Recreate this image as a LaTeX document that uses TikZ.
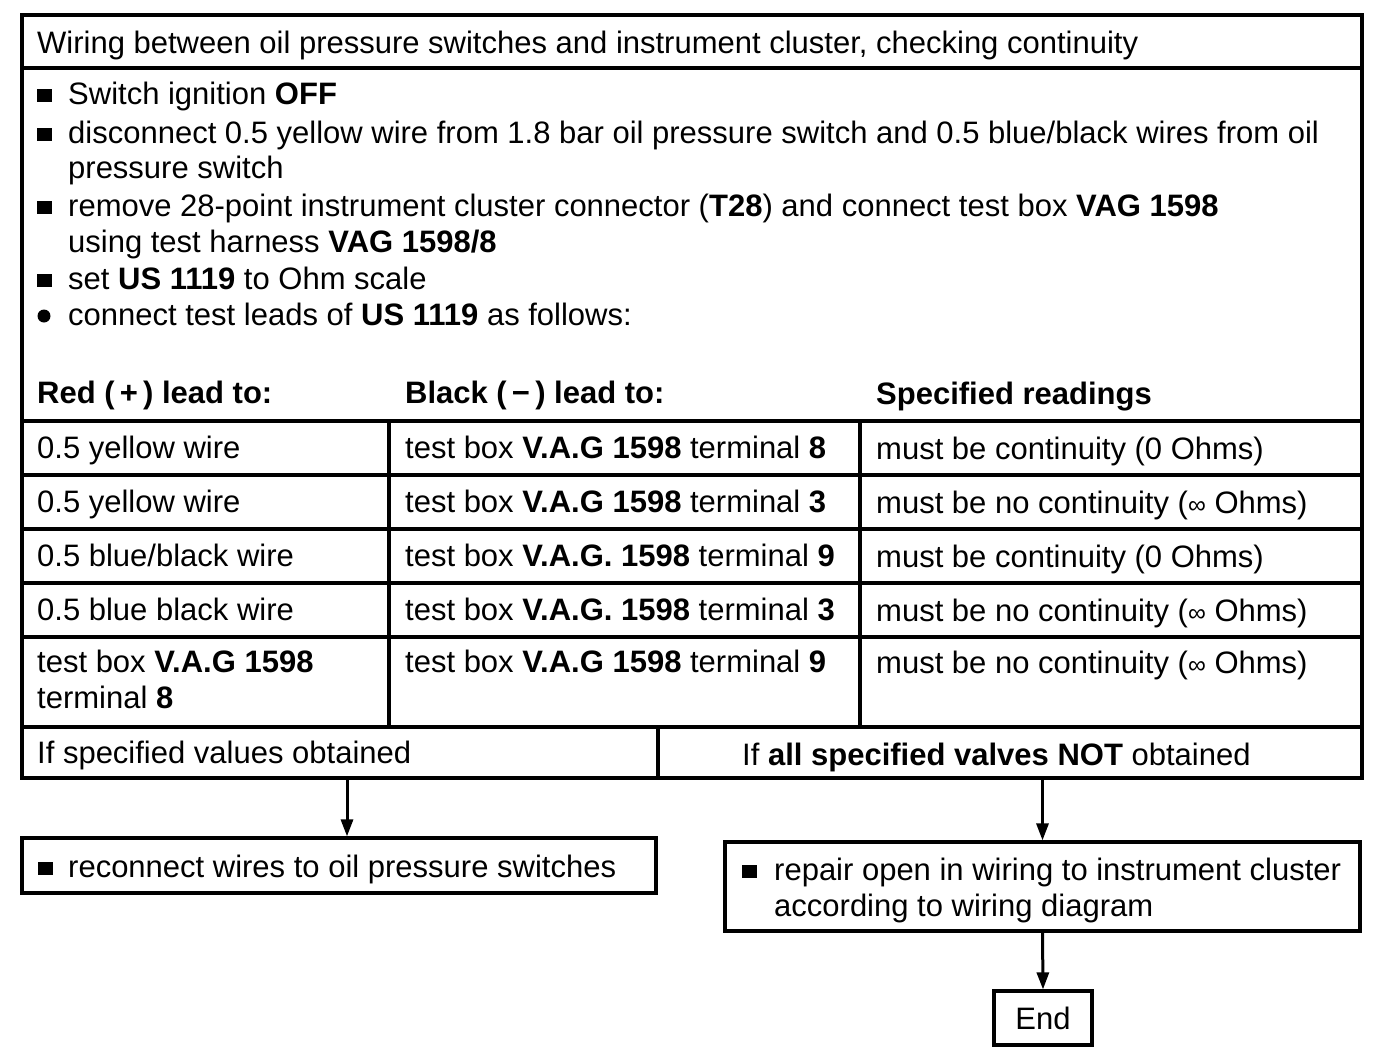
\documentclass[tikz,border=0pt]{standalone}
\usepackage{fontspec}
\setmainfont{Liberation Sans}
\usetikzlibrary{arrows.meta}
\newcommand{\Bsq}{\rule[0.06em]{0.48em}{0.44em}}
\newcommand{\Inf}{{\fontsize{25}{25}\selectfont ∞}}
\begin{document}
\begin{tikzpicture}[x=1pt,y=-1pt,
  every node/.style={font=\fontsize{31}{35.5}\selectfont, inner sep=0pt},
  txt/.style={anchor=base west},
  frame/.style={line width=3.2pt},
  cell/.style={rectangle, minimum width=#1},
  boxed/.style={draw, rectangle, line width=3.2pt},
  flow/.style={line width=3pt, -{Triangle[length=17pt,width=12pt]}}
]
\useasboundingbox (0,0) rectangle (1392,1052);
\fill[white] (0,0) rectangle (1392,1052);

% main frame
\draw[frame] (22,15) rectangle (1362,778);
\draw[frame] (22,68) -- (1362,68);
\foreach \yy in {421,475,529,583,637,727} \draw[frame] (22,\yy) -- (1362,\yy);
\draw[frame] (389,421) -- (389,727);
\draw[frame] (860,421) -- (860,727);
\draw[frame] (658,727) -- (658,778);

% title and bullets
\node[txt] (title) at (37,53) {Wiring between oil pressure switches and instrument cluster, checking continuity};
\node[txt] (m1) at (37,104) {\Bsq};
\node[txt] (b1) at (68,104) {Switch ignition \textbf{OFF}};
\node[txt] (m2) at (37,143) {\Bsq};
\node[txt] (b2) at (68,143) {disconnect 0.5 yellow wire from 1.8 bar oil pressure switch and 0.5 blue/black wires from oil};
\node[txt] (b2b) at (68,178) {pressure switch};
\node[txt] (m3) at (37,216) {\Bsq};
\node[txt] (b3) at (68,216) {remove 28-point instrument cluster connector (\textbf{T28}) and connect test box \textbf{VAG 1598}};
\node[txt] (b3b) at (68,252) {using test harness \textbf{VAG 1598/8}};
\node[txt] (m4) at (37,289) {\Bsq};
\node[txt] (b4) at (68,289) {set \textbf{US 1119} to Ohm scale};
\node[circle, fill, minimum size=13pt] (m5) at (44,316) {};
\node[txt] (b5) at (68,325) {connect test leads of \textbf{US 1119} as follows:};

% header
\node[txt] (h1) at (37,403) {\textbf{Red (\,+\,) lead to:}};
\node[txt] (h2) at (405,403) {\textbf{Black (\,−\,) lead to:}};
\node[txt] (h3) at (876,404) {\textbf{Specified readings}};

% rows
\node[txt] (r1a) at (37,458) {0.5 yellow wire};
\node[txt] (r1b) at (405,458) {test box \textbf{V.A.G 1598} terminal \textbf{8}};
\node[txt] (r1c) at (876,459) {must be continuity (0 Ohms)};
\node[txt] (r2a) at (37,512) {0.5 yellow wire};
\node[txt] (r2b) at (405,512) {test box \textbf{V.A.G 1598} terminal \textbf{3}};
\node[txt] (r2c) at (876,513) {must be no continuity (\Inf{} Ohms)};
\node[txt] (r3a) at (37,566) {0.5 blue/black wire};
\node[txt] (r3b) at (405,566) {test box \textbf{V.A.G. 1598} terminal \textbf{9}};
\node[txt] (r3c) at (876,567) {must be continuity (0 Ohms)};
\node[txt] (r4a) at (37,620) {0.5 blue black wire};
\node[txt] (r4b) at (405,620) {test box \textbf{V.A.G. 1598} terminal \textbf{3}};
\node[txt] (r4c) at (876,621) {must be no continuity (\Inf{} Ohms)};
\node[txt] (r5a) at (37,672) {test box \textbf{V.A.G 1598}};
\node[txt] (r5a2) at (37,708) {terminal \textbf{8}};
\node[txt] (r5b) at (405,672) {test box \textbf{V.A.G 1598} terminal \textbf{9}};
\node[txt] (r5c) at (876,673) {must be no continuity (\Inf{} Ohms)};

% outcome cells
\node[cell=636pt, minimum height=51pt] (okcell) at (340,752.5) {};
\node[cell=704pt, minimum height=51pt] (notcell) at (1010,752.5) {};
\node[txt] (okt) at (37,763) {If specified values obtained};
\node[txt] (nott) at (742,765) {If \textbf{all specified valves NOT} obtained};

% result boxes
\node[boxed, minimum width=634pt, minimum height=55pt] (lbox) at (339,865.5) {};
\node[txt] (lm) at (38,877) {\Bsq};
\node[txt] (lt) at (68,877) {reconnect wires to oil pressure switches};

\node[boxed, minimum width=635pt, minimum height=89pt] (rbox) at (1042.5,886.5) {};
\node[txt] (rm) at (742,880) {\Bsq};
\node[txt] (rt) at (774,880) {repair open in wiring to instrument cluster};
\node[txt] (rt2) at (774,916) {according to wiring diagram};

\node[boxed, minimum width=98pt, minimum height=54pt] (endb) at (1043,1018) {End};

% connectors
\coordinate (a1) at (347,0);
\draw[flow] (okcell.south -| a1) -- (lbox.north -| a1);
\draw[flow] (notcell.south -| rbox.north) -- (rbox.north);
\draw[flow] (rbox.south) -- (endb.north);
\end{tikzpicture}
\end{document}
